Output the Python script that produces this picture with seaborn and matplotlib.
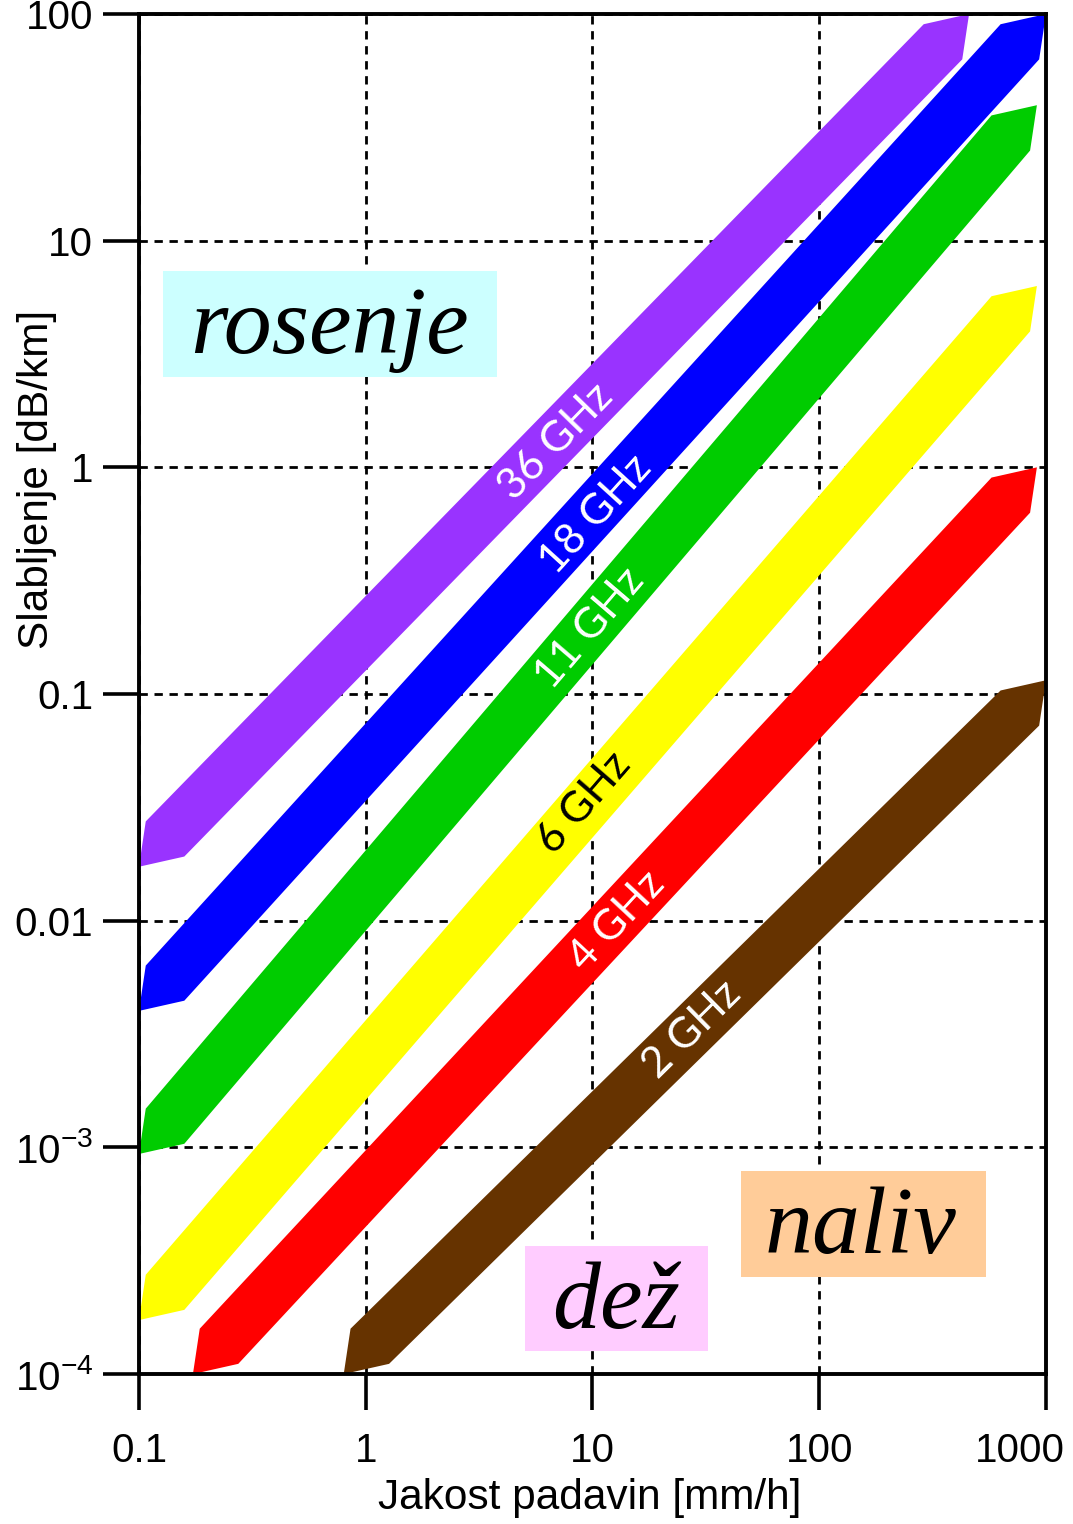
import numpy as np
import pandas as pd
import matplotlib
matplotlib.use("Agg")
import matplotlib.pyplot as plt
from matplotlib.patches import Polygon, Rectangle
from matplotlib.transforms import ScaledTranslation
import seaborn as sns

# Rain attenuation bands: frequency, rain-rate span and attenuation at both ends
freq_labels = ["36 GHz", "18 GHz", "11 GHz", "6 GHz", "4 GHz", "2 GHz"]
rate_start = [0.1, 0.1, 0.1, 0.1, 0.173, 0.80]        # mm/h
rate_end = [458, 1000, 912, 912, 912, 1000]           # mm/h
atten_start = [0.0173, 0.0040, 0.000935, 0.000173, 1e-4, 1e-4]   # dB/km
atten_end = [100, 100, 39.6, 6.31, 1.0, 0.115]        # dB/km
band_colors = ["#9933ff", "#0000ff", "#00cc00", "#ffff00", "#ff0000", "#663300"]
text_colors = ["white", "white", "white", "black", "white", "white"]
label_rate = [6.87, 10.3, 9.7, 9.2, 12.8, 27.5]
label_atten = [1.29, 0.617, 0.195, 0.033, 0.0100, 0.0033]

x_ticks = [0.1, 1, 10, 100, 1000]
x_tick_labels = ["0.1", "1", "10", "100", "1000"]
y_ticks = [1e-4, 1e-3, 0.01, 0.1, 1, 10, 100]
y_tick_labels = [r"$\mathregular{10^{-4}}$", r"$\mathregular{10^{-3}}$",
                 "0.01", "0.1", "1", "10", "100"]

regimes = ["rosenje", "dež", "naliv"]
regime_colors = ["#ccffff", "#ffccff", "#ffcc99"]

bands = pd.DataFrame({
    "freq": freq_labels, "r0": rate_start, "r1": rate_end,
    "a0": atten_start, "a1": atten_end,
    "color": band_colors, "tcolor": text_colors,
    "lr": label_rate, "la": label_atten,
})

sns.set_theme(style="white")
plt.rcParams["font.family"] = ["Liberation Sans", "DejaVu Sans"]
plt.rcParams["mathtext.fontset"] = "custom"
plt.rcParams["mathtext.rm"] = "Liberation Sans"

fig = plt.figure(figsize=(10.73, 15.24), dpi=100)
ax = fig.add_axes([0.1295, 0.0984, 0.8453, 0.8924])
ax.set_xscale("log")
ax.set_yscale("log")
ax.set_xlim(0.1, 1000)
ax.set_ylim(1e-4, 100)

# arrow-shaped band outline, offsets in decades
tip_up = np.array([0.03, 0.2])
tip_side = np.array([0.2, 0.045])
for _, b in bands.iterrows():
    a = np.log10([b.r0, b.a0])
    d = np.log10([b.r1, b.a1])
    pts_log = np.array([a, a + tip_up, d - tip_side, d, d - tip_up, a + tip_side])
    poly = Polygon(10 ** pts_log, closed=True, facecolor=b.color,
                   edgecolor="none", zorder=2, clip_on=False)
    ax.add_patch(poly)
    p0 = ax.transData.transform((b.r0, b.a0))
    p1 = ax.transData.transform((b.r1, b.a1))
    ang = np.degrees(np.arctan2(p1[1] - p0[1], p1[0] - p0[0]))
    ax.text(b.lr, b.la, b.freq, rotation=ang, rotation_mode="anchor",
            ha="center", va="center", color=b.tcolor, fontsize=31,
            family=["Lato", "DejaVu Sans"], zorder=4)

# regime boxes (axes fraction)
box_extents = [(0.0265, 0.733, 0.3682, 0.078),
               (0.4256, 0.0169, 0.2017, 0.0772),
               (0.6637, 0.0713, 0.2701, 0.078)]
text_pos = [(0.2095, 0.7507), (0.526, 0.0338), (0.796, 0.089)]
for name, col, (x0, y0, w, h), (tx, ty) in zip(regimes, regime_colors, box_extents, text_pos):
    ax.add_patch(Rectangle((x0, y0), w, h, transform=ax.transAxes,
                           facecolor=col, edgecolor="none", zorder=3))
    ax.text(tx, ty, name, transform=ax.transAxes, ha="center", va="baseline",
            fontsize=69, style="italic", family=["Liberation Serif", "DejaVu Serif"],
            color="black", zorder=4)

ax.set_xticks(x_ticks, x_tick_labels)
ax.set_yticks(y_ticks, y_tick_labels)
ax.minorticks_off()
ax.tick_params(axis="both", which="major", direction="out", length=26, width=2.6,
               labelsize=29, colors="black", left=True, bottom=True)
ax.tick_params(axis="x", pad=16)
ax.tick_params(axis="y", pad=7)

# last x label sits inside the figure edge
last = ax.get_xticklabels()[-1]
last.set_transform(last.get_transform() + ScaledTranslation(-26 / 100, 0, fig.dpi_scale_trans))

ax.set_axisbelow(True)
ax.grid(True, which="major", color="black", linestyle=(0, (3.0, 2.4)), linewidth=2.0)
for s in ax.spines.values():
    s.set_visible(True)
    s.set_color("black")
    s.set_linewidth(2.8)
    s.set_zorder(5)

ax.set_xlabel("Jakost padavin [mm/h]", fontsize=30.5, color="black")
ax.set_ylabel("Slabljenje [dB/km]", fontsize=30.5, color="black")
ax.xaxis.set_label_coords(0.4967, -0.0765)
ax.yaxis.set_label_coords(-0.090, 0.658)

fig.savefig("out.png", dpi=100, facecolor="white")
